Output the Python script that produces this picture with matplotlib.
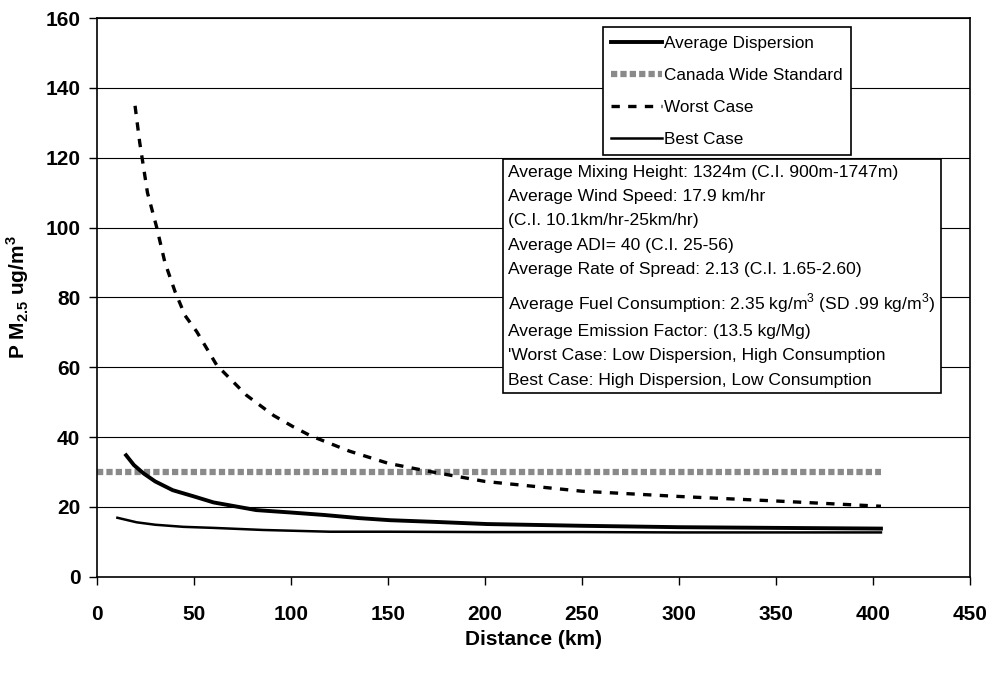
import matplotlib.pyplot as plt

plt.rcParams['font.family'] = ['Liberation Sans', 'DejaVu Sans']
plt.rcParams['mathtext.fontset'] = 'custom'
plt.rcParams['mathtext.rm'] = 'Liberation Sans'
plt.rcParams['mathtext.bf'] = 'Liberation Sans:bold'

# data
avg_x = [15, 19, 24, 30, 39, 50, 60, 70, 82, 100, 117, 135, 151, 175, 201, 250, 300, 350, 404]
avg_y = [34.8, 32, 29.6, 27.3, 24.8, 23, 21.3, 20.3, 19.1, 18.4, 17.7, 16.8, 16.2, 15.7, 15.1, 14.6, 14.2, 14, 13.8]

cws_x = [0, 404]
cws_y = [30, 30]

worst_x = [19.6, 22, 26, 30.7, 35, 40.2, 45.4, 51.4, 61.7, 77, 91, 101, 110, 130, 150, 170, 200, 250, 300, 350, 404]
worst_y = [134.9, 124.4, 110, 100.2, 90, 81.7, 74.8, 70.2, 60.6, 52, 46.2, 43, 40.4, 36, 32.5, 30.3, 27.3, 24.5, 23, 21.7, 20.2]

best_x = [10.5, 20.4, 30, 44.5, 60, 85.7, 120, 150, 201, 250, 300, 350, 404]
best_y = [16.9, 15.6, 14.9, 14.3, 14, 13.4, 12.9, 12.9, 12.8, 12.8, 12.7, 12.7, 12.7]

info = [
    "Average Mixing Height: 1324m (C.I. 900m-1747m)",
    "Average Wind Speed: 17.9 km/hr",
    "(C.I. 10.1km/hr-25km/hr)",
    "Average ADI= 40 (C.I. 25-56)",
    "Average Rate of Spread: 2.13 (C.I. 1.65-2.60)",
    "Average Fuel Consumption: 2.35 kg/m$^3$ (SD .99 kg/m$^3$)",
    "Average Emission Factor: (13.5 kg/Mg)",
    "'Worst Case: Low Dispersion, High Consumption",
    "Best Case: High Dispersion, Low Consumption",
]

fig = plt.figure(figsize=(9.9, 6.73), dpi=100)
ax = fig.add_axes([0.098, 0.143, 0.882, 0.83])

for v in range(20, 161, 20):
    ax.axhline(v, color='black', lw=0.8, zorder=1)

ax.plot(avg_x, avg_y, color='black', lw=2.8, label='Average Dispersion', zorder=3)
ax.plot(cws_x, cws_y, color='#8a8a8a', lw=4.5, dashes=(1, 0.5), label='Canada Wide Standard', zorder=2)
ax.plot(worst_x, worst_y, color='black', lw=2.4, dashes=(2.5, 2.5), label='Worst Case', zorder=3)
ax.plot(best_x, best_y, color='black', lw=1.8, label='Best Case', zorder=3)

ax.set_xlim(0, 450)
ax.set_ylim(0, 160)
ax.set_xticks(range(0, 451, 50))
ax.set_yticks(range(0, 161, 20))
ax.tick_params(direction='out', length=6, width=1, pad=14, labelsize=15)
ax.tick_params(axis='y', pad=6)
for lab in ax.get_xticklabels() + ax.get_yticklabels():
    lab.set_fontweight('bold')
for s in ax.spines.values():
    s.set_linewidth(1.2)

ax.set_xlabel('Distance (km)', fontsize=15, fontweight='bold', labelpad=5)
ax.set_ylabel(r'P M$_{\mathbf{2.5}}$ ug/m$^{\mathbf{3}}$', fontsize=15, fontweight='bold', labelpad=10)

leg = ax.legend(loc='upper left', bbox_to_anchor=(0.579, 0.984), fontsize=12.3,
                handlelength=3.0, handletextpad=0.1, borderpad=0.5, labelspacing=1.0,
                borderaxespad=0, fancybox=False, edgecolor='black', framealpha=1)
leg.get_frame().set_linewidth(1.2)

ax.text(0.471, 0.738, "\n".join(info), transform=ax.transAxes, fontsize=12.6,
        va='top', ha='left', linespacing=1.78, zorder=5,
        bbox=dict(boxstyle='square,pad=0.3', facecolor='white', edgecolor='black', lw=1.2))

fig.savefig('out.png', dpi=100)
